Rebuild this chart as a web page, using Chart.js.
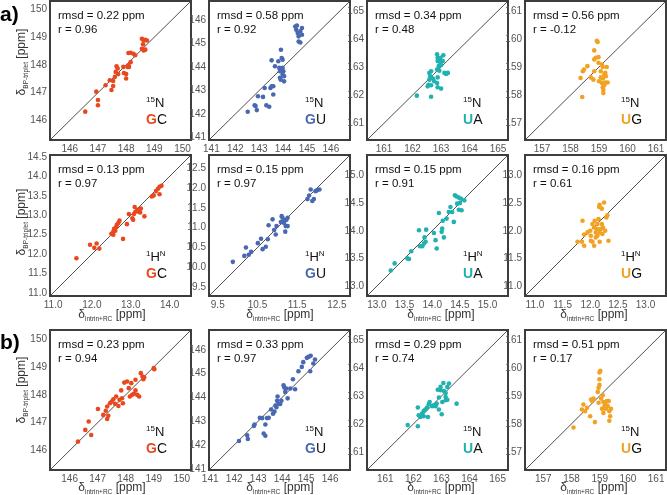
<!DOCTYPE html>
<html>
<head>
<meta charset="utf-8">
<script src="https://cdn.jsdelivr.net/npm/chart.js@4.4.0/dist/chart.umd.min.js"></script>
<style>
  body{margin:0;background:#fff;font-family:"Liberation Sans",Arial,sans-serif}
  #stage{position:relative;width:667px;height:495px;overflow:hidden;background:#fff}
  .pnl{position:absolute}
  .stats{position:absolute;font-size:11.5px;line-height:13.5px;color:#111;white-space:nowrap}
  .nuc{position:absolute;font-size:13px;line-height:13px;color:#111;white-space:nowrap}
  .pair{position:absolute;font-size:14px;line-height:14px;color:#111;white-space:nowrap}
  .sup{font-size:8px;position:relative;top:-5px}
  .xt{position:absolute;font-size:12px;line-height:14px;color:#333;white-space:nowrap;transform:translateX(-50%)}
  .yt{position:absolute;font-size:12px;line-height:14px;color:#333;white-space:nowrap;transform:translate(-50%,-50%) rotate(-90deg)}
  .sub{font-size:6.5px;position:relative;top:3px}
  .lbl{position:absolute;font-weight:bold;font-size:21px;color:#000}
</style>
</head>
<body>
<div id="stage"></div>
<script>
// ---- data: [x = delta intrin+RC, y = delta BP-triplet] in ppm ----
// a) 15N
var a_GC_N=[[146.55,146.32],[146.94,147.04],[147.0,146.74],[147.0,146.55],[147.27,147.27],[147.42,147.45],[147.54,147.42],[147.48,147.1],[147.54,147.24],[147.6,147.57],[147.63,147.75],[147.66,147.95],[147.7,147.87],[147.72,147.67],[147.9,147.93],[147.92,147.71],[148.0,147.67],[148.0,147.51],[148.05,147.93],[148.08,147.99],[148.1,147.93],[148.16,148.1],[148.08,148.43],[148.16,148.44],[148.26,148.4],[148.32,148.35],[148.56,148.94],[148.62,148.88],[148.68,148.9],[148.74,148.88],[148.6,148.74],[148.56,148.58],[148.62,148.52],[148.68,148.55]]
var a_GU_N=[[142.52,142.1],[142.85,142.34],[142.9,142.17],[142.81,142.37],[142.95,142.76],[143.16,142.73],[143.23,143.11],[143.3,142.37],[143.42,142.31],[143.47,143.11],[143.52,143.18],[143.59,143.18],[143.59,142.83],[143.52,144.28],[143.66,144.03],[143.8,144.24],[143.84,143.96],[143.91,144.73],[143.94,144.38],[143.87,143.82],[143.87,143.54],[143.9,143.46],[143.98,143.68],[144.01,143.82],[144.04,143.61],[144.04,143.39],[143.98,143.96],[143.98,144.31],[144.51,145.72],[144.55,145.58],[144.61,145.44],[144.72,145.51],[144.65,145.3],[144.65,145.08],[144.72,145.04],[144.79,145.65],[144.79,145.37],[144.58,145.76]]
var a_UA_N=[[162.15,161.98],[162.65,161.94],[162.56,162.37],[162.53,162.31],[162.65,162.35],[162.59,162.55],[162.62,162.67],[162.59,162.79],[162.65,162.85],[162.65,162.63],[162.71,162.59],[162.76,162.49],[162.86,163.45],[162.88,163.33],[162.94,163.27],[162.88,163.21],[162.98,163.15],[163.0,163.06],[162.92,163.03],[163.08,163.42],[162.86,162.91],[162.94,162.87],[162.88,162.63],[162.86,162.43],[162.88,162.28],[163.0,162.23],[163.12,162.79],[163.18,162.75],[163.24,162.79],[162.98,163.33],[163.06,163.21]]
var a_UG_N=[[158.41,157.93],[158.35,158.61],[158.43,158.85],[158.47,158.91],[158.59,159.03],[158.83,158.85],[158.8,158.55],[158.83,159.27],[158.89,159.33],[158.98,159.35],[158.95,159.89],[158.92,159.93],[158.83,159.59],[158.98,159.15],[159.0,158.49],[159.1,159.09],[159.06,158.85],[159.13,159.0],[159.06,158.63],[159.13,158.59],[159.1,158.43],[159.13,158.28],[159.15,158.19],[159.15,158.07],[159.18,158.73],[159.22,158.79],[159.27,159.0],[159.24,158.67],[159.22,158.45],[159.3,158.45],[159.18,158.35],[158.71,158.63]]
// a) 1H
var a_GC_H=[[11.6,11.89],[11.95,12.24],[12.06,12.16],[12.12,12.27],[12.19,12.14],[12.5,12.52],[12.55,12.58],[12.57,12.65],[12.6,12.6],[12.62,12.69],[12.64,12.75],[12.68,12.8],[12.71,12.86],[12.55,12.5],[12.8,12.39],[12.9,12.77],[12.95,13.03],[13.04,12.92],[13.06,12.88],[13.08,13.03],[13.12,13.09],[13.1,13.21],[13.17,13.14],[13.21,13.09],[13.26,13.17],[13.24,13.07],[13.35,12.97],[13.54,13.48],[13.59,13.51],[13.65,13.62],[13.7,13.68],[13.74,13.73],[13.79,13.76],[13.74,13.54]]
var a_GU_H=[[9.88,10.14],[10.17,10.29],[10.21,10.5],[10.28,10.32],[10.34,10.39],[10.51,10.61],[10.59,10.72],[10.63,10.46],[10.71,10.52],[10.76,10.71],[10.78,11.06],[10.88,11.21],[10.92,10.94],[10.96,10.83],[10.98,11.04],[11.09,11.14],[11.11,11.29],[11.13,11.25],[11.15,11.17],[11.17,11.12],[11.2,11.19],[11.21,11.04],[11.23,11.2],[11.26,11.25],[11.2,10.9],[11.26,11.04],[11.76,11.72],[11.8,11.81],[11.84,11.96],[11.88,11.67],[11.92,11.72],[11.96,11.92],[12.0,11.94],[12.06,11.96]]
var a_UA_H=[[13.25,13.28],[13.32,13.41],[13.55,13.5],[13.58,13.49],[13.62,13.63],[13.76,14.01],[13.78,13.72],[13.82,13.72],[13.85,13.77],[13.88,13.8],[13.86,13.88],[13.89,14.02],[14.03,13.96],[14.06,13.83],[14.08,13.68],[14.12,14.32],[14.17,13.98],[14.18,14.04],[14.19,14.18],[14.21,13.88],[14.26,14.22],[14.3,14.34],[14.33,14.43],[14.36,14.34],[14.39,14.16],[14.41,14.64],[14.44,14.62],[14.45,14.49],[14.48,14.38],[14.5,14.5],[14.52,14.58],[14.53,14.37],[14.58,14.55],[14.48,14.6]]
var a_UG_H=[[11.77,11.8],[11.85,11.8],[11.89,11.73],[11.86,12.18],[11.89,11.93],[11.95,11.97],[12.0,12.0],[12.01,11.91],[12.01,11.82],[12.04,11.8],[12.04,12.12],[12.07,12.06],[12.08,12.18],[12.1,11.97],[12.1,11.88],[12.12,12.03],[12.13,12.12],[12.15,12.21],[12.16,12.43],[12.17,12.47],[12.13,11.91],[12.17,11.97],[12.19,12.03],[12.21,12.4],[12.21,12.12],[12.22,11.94],[12.23,12.06],[12.25,12.51],[12.27,12.0],[12.29,12.24],[12.31,12.28],[12.33,11.82],[12.17,11.8],[12.07,11.73]]
// b) 15N
var b_GC_N=[[146.3,146.32],[146.56,146.74],[146.68,147.04],[146.77,146.56],[147.01,147.49],[147.2,147.28],[147.29,147.43],[147.34,147.58],[147.38,147.25],[147.34,147.13],[147.44,147.7],[147.5,147.76],[147.56,147.84],[147.62,147.68],[147.66,147.94],[147.74,147.6],[147.78,147.82],[147.84,148.16],[147.87,147.88],[147.9,147.7],[147.95,148.44],[148.05,148.48],[148.11,148.24],[148.2,148.42],[148.15,147.94],[148.23,148.0],[148.29,148.04],[148.35,148.54],[148.35,148.16],[148.41,148.0],[148.48,147.94],[148.54,148.78],[148.6,148.66],[148.63,148.56],[148.66,148.63],[149.0,148.96],[149.02,148.92]]
var b_GU_N=[[142.2,142.17],[142.54,142.41],[142.57,142.25],[142.82,142.8],[142.85,142.86],[143.07,143.14],[143.17,143.13],[143.23,142.48],[143.3,142.39],[143.3,142.86],[143.37,143.13],[143.44,143.14],[143.54,143.49],[143.62,143.31],[143.68,143.41],[143.72,143.66],[143.76,143.59],[143.79,143.86],[143.81,144.04],[143.86,143.72],[143.92,143.72],[143.97,143.86],[144.06,144.51],[144.09,144.41],[144.13,144.23],[144.17,144.37],[144.23,143.96],[144.34,144.37],[144.45,144.76],[144.54,144.34],[144.68,145.1],[144.82,145.28],[144.88,145.48],[145.03,145.66],[145.1,145.7],[145.19,145.75],[145.17,145.1],[145.3,145.42],[145.37,145.59]]
var b_UA_N=[[161.8,161.96],[162.16,162.59],[162.16,161.92],[162.19,162.31],[162.25,162.25],[162.31,162.37],[162.37,162.47],[162.43,162.52],[162.37,162.28],[162.52,162.25],[162.49,162.59],[162.55,162.71],[162.58,162.79],[162.67,162.64],[162.73,162.67],[162.79,162.64],[162.83,162.73],[162.91,162.95],[162.87,163.23],[162.97,163.21],[163.01,162.35],[162.97,163.33],[163.07,163.47],[163.09,163.18],[163.15,163.11],[163.15,162.85],[163.21,163.33],[163.27,163.45],[163.21,162.87],[163.15,162.97],[163.54,162.73],[162.91,162.52],[163.03,162.79]]
var b_UG_N=[[158.07,157.87],[158.37,158.51],[158.42,158.69],[158.48,158.45],[158.55,158.57],[158.66,158.27],[158.69,158.87],[158.73,158.81],[158.78,158.9],[158.83,158.06],[158.93,159.14],[158.96,159.29],[158.99,159.39],[158.99,159.59],[159.02,159.89],[158.99,159.83],[158.96,158.75],[159.05,158.9],[159.08,158.54],[159.11,159.02],[159.13,158.78],[159.17,158.63],[159.2,158.71],[159.22,158.54],[159.28,158.63],[159.32,158.81],[159.34,158.45],[159.37,158.27],[159.34,158.11],[159.4,158.54],[159.25,158.81],[159.13,158.39]]

// stats shown in each panel
var rmsd_aN=['0.22','0.58','0.34','0.56'], r_aN=['0.96','0.92','0.48','-0.12']
var rmsd_aH=['0.13','0.15','0.15','0.16'], r_aH=['0.97','0.97','0.91','0.61']
var rmsd_bN=['0.23','0.33','0.29','0.51'], r_bN=['0.94','0.97','0.74','0.17']

// axis limits (same for x and y) and tick labels
var lim_N=[[145.3,150.3],[140.9,146.8],[160.4,165.35],[156.4,161.35]]
var lim_bN=[[145.3,150.33],[140.95,146.83],[160.35,165.37],[156.35,161.35]]
var lim_H=[[10.92,14.55],[9.28,12.83],[12.82,15.37],[10.82,13.37]]
var ticks_N=[[146,147,148,149,150],[141,142,143,144,145,146],[161,162,163,164,165],[157,158,159,160,161]]
var ticksY_H=[[11,11.5,12,12.5,13,13.5,14,14.5],[9.5,10,10.5,11,11.5,12,12.5],[13,13.5,14,14.5,15],[11,11.5,12,12.5,13]]
var ticksX_H=[[11,12,13,14],[9.5,10.5,11.5,12.5],[13,13.5,14,14.5,15],[11,11.5,12,12.5,13]]

var pairs=[['G','C'],['G','U'],['U','A'],['U','G']]
var colors=['#e9481f','#4a68b2','#1fb2b0','#f2a223']

// ---- layout ----
var colLeft=[50,209,367,525], boxW=141
var rowTop=[1,155,330], rowH=[139,141,140]
var PADL=34, PADT=8, PADR=6, PADB=16
var stage=document.getElementById('stage')

var boxPlugin={id:'box',afterDraw:function(c){
  var a=c.chartArea, ctx=c.ctx
  ctx.save()
  ctx.strokeStyle='#3d3d3d'; ctx.lineWidth=2
  ctx.strokeRect(a.left,a.top,a.right-a.left,a.bottom-a.top)
  ctx.restore()
}}

function axisOpts(lim,tks,dec,isY){
  return {
    type:'linear', min:lim[0], max:lim[1],
    grid:{display:false,drawTicks:false}, border:{display:false},
    afterBuildTicks:function(s){ s.ticks=tks.map(function(v){return {value:v}}) },
    afterFit:function(s){
      if(isY){ s.width=PADL } else { s.height=PADB }
      s.paddingLeft=0; s.paddingRight=0; s.paddingTop=0; s.paddingBottom=0
    },
    ticks:{padding:3,autoSkip:false,maxRotation:0,color:'#555',
      font:{family:'Liberation Sans',size:10},
      callback:function(v){ return Number(v).toFixed(dec) }}
  }
}

function addDiv(cls,html,x,y){
  var d=document.createElement('div')
  d.className=cls; d.innerHTML=html
  d.style.left=x+'px'; d.style.top=y+'px'
  stage.appendChild(d)
  return d
}

function panel(row,col,pts,lim,tx,ty,dec,rmsd,r,nucHtml){
  var L=colLeft[col], T=rowTop[row], H=rowH[row]
  var box=document.createElement('div')
  box.className='pnl'
  box.style.left=(L-PADL)+'px'; box.style.top=(T-PADT)+'px'
  var cv=document.createElement('canvas')
  cv.width=PADL+boxW+PADR; cv.height=PADT+H+PADB
  box.appendChild(cv); stage.appendChild(box)

  new Chart(cv,{
    type:'scatter',
    data:{datasets:[
      {data:pts.map(function(p){return {x:p[0],y:p[1]}}),backgroundColor:colors[col],
       borderWidth:0,pointRadius:2.3,pointHoverRadius:2.3},
      {data:[{x:lim[0],y:lim[0]},{x:lim[1],y:lim[1]}],showLine:true,
       borderColor:'#505050',borderWidth:1,pointRadius:0}
    ]},
    options:{
      responsive:false,animation:false,devicePixelRatio:1,
      layout:{padding:{top:PADT,right:PADR,left:0,bottom:0}},
      plugins:{legend:{display:false},tooltip:{enabled:false}},
      scales:{x:axisOpts(lim,tx,dec,false),y:axisOpts(lim,ty,dec,true)}
    },
    plugins:[boxPlugin]
  })

  addDiv('stats','rmsd = '+rmsd+' ppm<br>r = '+r,L+8,T+8)
  addDiv('nuc',nucHtml,L+96,T+95)
  var pr=pairs[col]
  addDiv('pair','<b style="color:'+colors[col]+'">'+pr[0]+'</b>'+pr[1],L+96,T+111)
}

var N15='<span class="sup">15</span>N'
var H1='<span class="sup">1</span>H<span class="sup">N</span>'
var sets_aN=[a_GC_N,a_GU_N,a_UA_N,a_UG_N]
var sets_aH=[a_GC_H,a_GU_H,a_UA_H,a_UG_H]
var sets_bN=[b_GC_N,b_GU_N,b_UA_N,b_UG_N]

for(var i=0;i<4;i++){
  panel(0,i,sets_aN[i],lim_N[i],ticks_N[i],ticks_N[i],0,rmsd_aN[i],r_aN[i],N15)
  panel(1,i,sets_aH[i],lim_H[i],ticksX_H[i],ticksY_H[i],1,rmsd_aH[i],r_aH[i],H1)
  panel(2,i,sets_bN[i],lim_bN[i],ticks_N[i],ticks_N[i],0,rmsd_bN[i],r_bN[i],N15)
}

// axis titles
var xTitle='δ<span class="sub">intrin+RC</span> [ppm]'
var yTitle='δ<span class="sub">BP-triplet</span> [ppm]'
var xCenters=[112,280,441,594]
for(var k=0;k<4;k++){
  addDiv('xt',xTitle,xCenters[k],307)
  addDiv('xt',xTitle,xCenters[k],480)
}
var yCenters=[62,222,390]
for(var m=0;m<3;m++) addDiv('yt',yTitle,22,yCenters[m])

addDiv('lbl','a)',0,2)
addDiv('lbl','b)',0,330)
</script>
</body>
</html>
